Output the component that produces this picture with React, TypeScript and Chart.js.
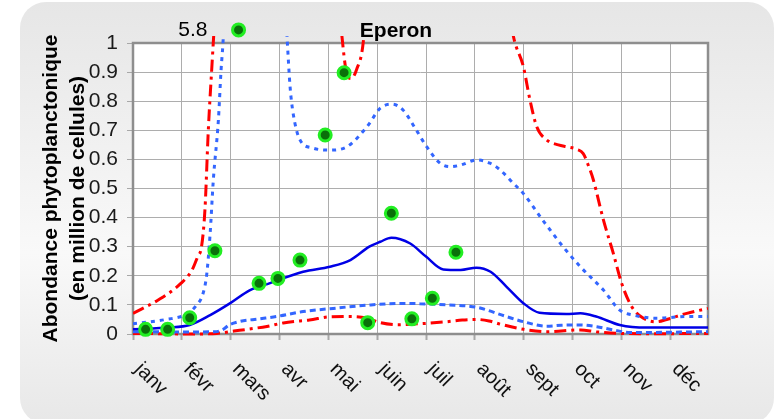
import React, { useEffect, useRef } from 'react';
import { Chart, registerables } from 'chart.js';

Chart.register(...registerables);

// ---- data ----
const chartTitle = 'Eperon';
const yTitleLines = ['Abondance phytoplanctonique', '(en million de cellules)'];
const monthLabels = ['janv', 'févr', 'mars', 'avr', 'mai', 'juin', 'juil', 'août', 'sept', 'oct', 'nov', 'déc'];
const monthTickDays = [0, 31, 62, 93, 124, 155, 186, 217, 248, 279, 310, 341];
const xMaxDay = 365;
const yMin = 0;
const yMax = 1;
const yStep = 0.1;

// observations (green points); one off-scale value (5.8) is drawn clamped at the top
const obsDays = [8, 22, 36, 52, 67, 80, 92, 106, 122, 134, 149, 164, 177, 190, 205];
const obsValues = [0.016, 0.016, 0.056, 0.286, 5.8, 0.174, 0.191, 0.254, 0.684, 0.898, 0.039, 0.415, 0.052, 0.123, 0.281];
const obsDisplayCap = 1.045;

// model mean (solid blue)
const meanDays = [0, 11, 22, 36, 49, 62, 74, 87, 108, 125, 138, 150, 157, 164, 176, 186, 197, 208, 218, 227, 237, 248, 258, 275, 284, 294, 309, 326, 365];
const meanValues = [0.016, 0.019, 0.022, 0.031, 0.065, 0.107, 0.15, 0.175, 0.214, 0.231, 0.254, 0.3, 0.317, 0.331, 0.311, 0.266, 0.222, 0.22, 0.228, 0.214, 0.163, 0.105, 0.073, 0.069, 0.071, 0.06, 0.031, 0.022, 0.022];

// blue dotted envelope (upper)
const blueHighDays = [0, 21, 34, 40, 44.5, 46.8, 48.9, 51, 54.2, 55.9, 57, 60, 75, 90, 96.5, 98, 99.7, 101.6, 106, 114, 125, 136, 148.5, 157, 164.4, 171.4, 179, 186.4, 194.9, 201.2, 207.6, 218.2, 226.6, 233, 241.2, 247.6, 260, 273, 284, 298.6, 309, 317.6, 332.4, 351.5, 365];
const blueHighValues = [0.035, 0.05, 0.068, 0.097, 0.14, 0.205, 0.34, 0.53, 0.735, 0.907, 0.99, 1.3, 2.2, 1.6, 1.15, 1.0, 0.85, 0.76, 0.667, 0.639, 0.632, 0.644, 0.712, 0.776, 0.79, 0.77, 0.708, 0.644, 0.587, 0.575, 0.58, 0.598, 0.587, 0.564, 0.519, 0.484, 0.392, 0.3, 0.231, 0.151, 0.082, 0.065, 0.054, 0.06, 0.06];

// blue dotted envelope (lower)
const blueLowDays = [0, 30, 52, 57, 61, 67, 80, 91, 108, 127, 151, 172, 182, 199, 218, 237, 248, 262.6, 272, 284, 294.4, 305, 315.5, 340, 365];
const blueLowValues = [0.008, 0.007, 0.008, 0.015, 0.031, 0.042, 0.052, 0.06, 0.077, 0.088, 0.1, 0.105, 0.104, 0.1, 0.092, 0.06, 0.042, 0.027, 0.03, 0.031, 0.025, 0.014, 0.005, 0.006, 0.008];

// red dash-dot envelope (upper)
const redHighDays = [0, 16, 30, 37.5, 41, 43.5, 45.7, 47.8, 50.3, 52, 60, 90, 120, 129, 132.5, 135.5, 138.5, 142, 146.2, 150, 190, 230, 238, 241.4, 247.8, 252, 256.3, 262.6, 270, 276, 281.7, 285.8, 289, 292.2, 298.6, 304.9, 310.2, 316.6, 324, 332.4, 338.8, 351.5, 365];
const redHighValues = [0.071, 0.117, 0.172, 0.22, 0.265, 0.3, 0.43, 0.7, 0.94, 1.1, 2.0, 3.0, 2.0, 1.25, 1.03, 0.9, 0.878, 0.91, 1.005, 1.3, 3.0, 1.6, 1.15, 1.025, 0.919, 0.804, 0.712, 0.667, 0.65, 0.643, 0.635, 0.62, 0.58, 0.53, 0.392, 0.277, 0.174, 0.094, 0.054, 0.042, 0.05, 0.071, 0.088];

// red dash-dot envelope (lower)
const redLowDays = [0, 20, 35, 53, 64, 75, 85, 95.4, 106, 112, 125, 138, 148, 157, 168, 178, 199, 209, 218, 226, 233, 248, 263, 284, 294, 309, 330, 365];
const redLowValues = [0.002, 0.001, 0.0, 0.002, 0.01, 0.018, 0.026, 0.038, 0.045, 0.048, 0.059, 0.06, 0.055, 0.039, 0.032, 0.034, 0.042, 0.048, 0.05, 0.045, 0.034, 0.016, 0.008, 0.014, 0.008, 0.002, 0.001, 0.002];

const FONT = '"Liberation Sans", Arial, Helvetica, sans-serif';
const POINT_FILL = '#0a700a';
const POINT_RING = '#22ee22';

const toPoints = (days: number[], values: number[]) => days.map((d, i) => ({ x: d, y: values[i] }));

export default function App() {
  const canvasRef = useRef<HTMLCanvasElement | null>(null);

  useEffect(() => {
    const canvas = canvasRef.current;
    if (!canvas) return;

    const decor = {
      id: 'decor',
      beforeDraw(chart: any) {
        const ctx = chart.ctx as CanvasRenderingContext2D;
        ctx.save();
        ctx.fillStyle = '#ffffff';
        ctx.fillRect(0, 0, chart.width, chart.height);
        const g = ctx.createLinearGradient(0, 2, 0, 420);
        g.addColorStop(0, '#e6e6e6');
        g.addColorStop(0.6, '#f9f9f9');
        g.addColorStop(1, '#e8e8e8');
        ctx.fillStyle = g;
        ctx.beginPath();
        (ctx as any).roundRect(20, 2, 754, 422, 26);
        ctx.fill();
        const a = chart.chartArea;
        ctx.fillStyle = '#ffffff';
        ctx.fillRect(a.left, a.top, a.right - a.left, a.bottom - a.top);
        ctx.restore();
      },
      beforeDatasetsDraw(chart: any) {
        const ctx = chart.ctx as CanvasRenderingContext2D;
        const a = chart.chartArea;
        ctx.save();
        ctx.strokeStyle = '#8e8e8e';
        ctx.lineWidth = 2.5;
        ctx.strokeRect(a.left, a.top, a.right - a.left, a.bottom - a.top);
        ctx.restore();
      },
      afterDatasetsDraw(chart: any) {
        // observations beyond the axis maximum are marked just above the plot area
        const ctx = chart.ctx as CanvasRenderingContext2D;
        const xs = chart.scales.x;
        const ys = chart.scales.y;
        ctx.save();
        obsValues.forEach((v, i) => {
          if (v > yMax) {
            const px = xs.getPixelForValue(obsDays[i]);
            const py = ys.getPixelForValue(obsDisplayCap);
            ctx.beginPath();
            ctx.arc(px, py, 6, 0, Math.PI * 2);
            ctx.fillStyle = POINT_FILL;
            ctx.fill();
            ctx.lineWidth = 3;
            ctx.strokeStyle = POINT_RING;
            ctx.stroke();
          }
        });
        ctx.restore();
      },
      afterDraw(chart: any) {
        const ctx = chart.ctx as CanvasRenderingContext2D;
        const a = chart.chartArea;
        const xs = chart.scales.x;
        const ys = chart.scales.y;
        ctx.save();
        ctx.fillStyle = '#000000';

        // title
        ctx.font = `bold 21px ${FONT}`;
        ctx.textAlign = 'center';
        ctx.textBaseline = 'alphabetic';
        ctx.fillText(chartTitle, 396, 37);

        // off-scale value label
        obsValues.forEach((v, i) => {
          if (v > yMax) {
            const px = xs.getPixelForValue(obsDays[i]);
            const py = ys.getPixelForValue(obsDisplayCap);
            ctx.font = `21px ${FONT}`;
            ctx.textAlign = 'right';
            ctx.textBaseline = 'alphabetic';
            ctx.fillText(String(v), px - 31, py + 6);
          }
        });

        // y title (two lines, rotated)
        const cy = (a.top + a.bottom) / 2;
        ctx.font = `bold 21px ${FONT}`;
        ctx.textAlign = 'center';
        ctx.textBaseline = 'alphabetic';
        yTitleLines.forEach((line, i) => {
          ctx.save();
          ctx.translate(56.5 + i * 27, cy);
          ctx.rotate(-Math.PI / 2);
          ctx.fillText(line, 0, 0);
          ctx.restore();
        });

        // x labels rotated 45° clockwise
        ctx.font = `20px ${FONT}`;
        ctx.textAlign = 'left';
        ctx.textBaseline = 'alphabetic';
        ctx.fillStyle = '#111111';
        monthLabels.forEach((lab, i) => {
          const px = xs.getPixelForValue(monthTickDays[i]);
          ctx.save();
          ctx.translate(px + 1, a.bottom + 36);
          ctx.rotate(Math.PI / 4);
          ctx.fillText(lab, 0, 0);
          ctx.restore();
        });
        ctx.restore();
      },
    };

    const redDash = [12, 5, 3, 5];
    const lineClip = { left: 0, top: 7, right: 0, bottom: 4 };

    const chart = new Chart(canvas, {
      type: 'line',
      data: {
        datasets: [
          {
            type: 'scatter',
            label: 'observations',
            data: obsDays.map((d, i) => ({ x: d, y: Math.min(obsValues[i], obsDisplayCap) })),
            showLine: false,
            pointRadius: 6,
            pointBorderWidth: 3,
            pointBackgroundColor: POINT_FILL,
            pointBorderColor: POINT_RING,
            backgroundColor: POINT_FILL,
            borderColor: POINT_RING,
            clip: false,
          } as any,
          {
            label: 'moyenne',
            data: toPoints(meanDays, meanValues),
            borderColor: '#0000e6',
            borderWidth: 2.5,
            pointRadius: 0,
            cubicInterpolationMode: 'monotone',
            fill: false,
            clip: lineClip,
          } as any,
          {
            label: 'bleu haut',
            data: toPoints(blueHighDays, blueHighValues),
            borderColor: '#3366ff',
            borderWidth: 3,
            borderDash: [4, 5],
            pointRadius: 0,
            cubicInterpolationMode: 'monotone',
            fill: false,
            clip: lineClip,
          } as any,
          {
            label: 'bleu bas',
            data: toPoints(blueLowDays, blueLowValues),
            borderColor: '#3366ff',
            borderWidth: 3,
            borderDash: [6, 4],
            pointRadius: 0,
            cubicInterpolationMode: 'monotone',
            fill: false,
            clip: lineClip,
          } as any,
          {
            label: 'rouge haut',
            data: toPoints(redHighDays, redHighValues),
            borderColor: '#ff0000',
            borderWidth: 3,
            borderDash: redDash,
            pointRadius: 0,
            cubicInterpolationMode: 'monotone',
            fill: false,
            clip: lineClip,
          } as any,
          {
            label: 'rouge bas',
            data: toPoints(redLowDays, redLowValues),
            borderColor: '#ff0000',
            borderWidth: 3,
            borderDash: redDash,
            pointRadius: 0,
            cubicInterpolationMode: 'monotone',
            fill: false,
            clip: lineClip,
          } as any,
        ],
      },
      options: {
        animation: false,
        responsive: false,
        maintainAspectRatio: false,
        devicePixelRatio: 1,
        layout: { padding: { left: 0, top: 43, right: 72, bottom: 85 } },
        plugins: {
          legend: { display: false },
          tooltip: { enabled: false },
          title: { display: false },
        },
        scales: {
          x: {
            type: 'linear',
            min: 0,
            max: xMaxDay,
            afterBuildTicks: (s: any) => {
              s.ticks = monthTickDays.map((v) => ({ value: v }));
            },
            afterFit: (s: any) => {
              s.height = 0;
            },
            ticks: { display: false },
            grid: { color: '#adadad', lineWidth: 1, drawTicks: true, tickLength: 6, tickColor: '#a8a8a8', tickWidth: 2 },
            border: { display: false },
          },
          y: {
            type: 'linear',
            min: yMin,
            max: yMax,
            afterFit: (s: any) => {
              s.width = 133;
            },
            ticks: {
              stepSize: yStep,
              padding: 9,
              color: '#1a1a1a',
              font: { family: FONT, size: 21 },
              callback: (v: number) => String(Math.round(v * 10) / 10),
            },
            grid: { color: '#adadad', lineWidth: 1, drawTicks: true, tickLength: 6, tickColor: '#a8a8a8', tickWidth: 1 },
            border: { display: false },
          },
        },
      } as any,
      plugins: [decor],
    });

    return () => chart.destroy();
  }, []);

  return (
    <div style={{ position: 'fixed', left: 0, top: 0, width: 780, height: 419 }}>
      <canvas ref={canvasRef} width={780} height={419} style={{ display: 'block', width: 780, height: 419 }} />
    </div>
  );
}
